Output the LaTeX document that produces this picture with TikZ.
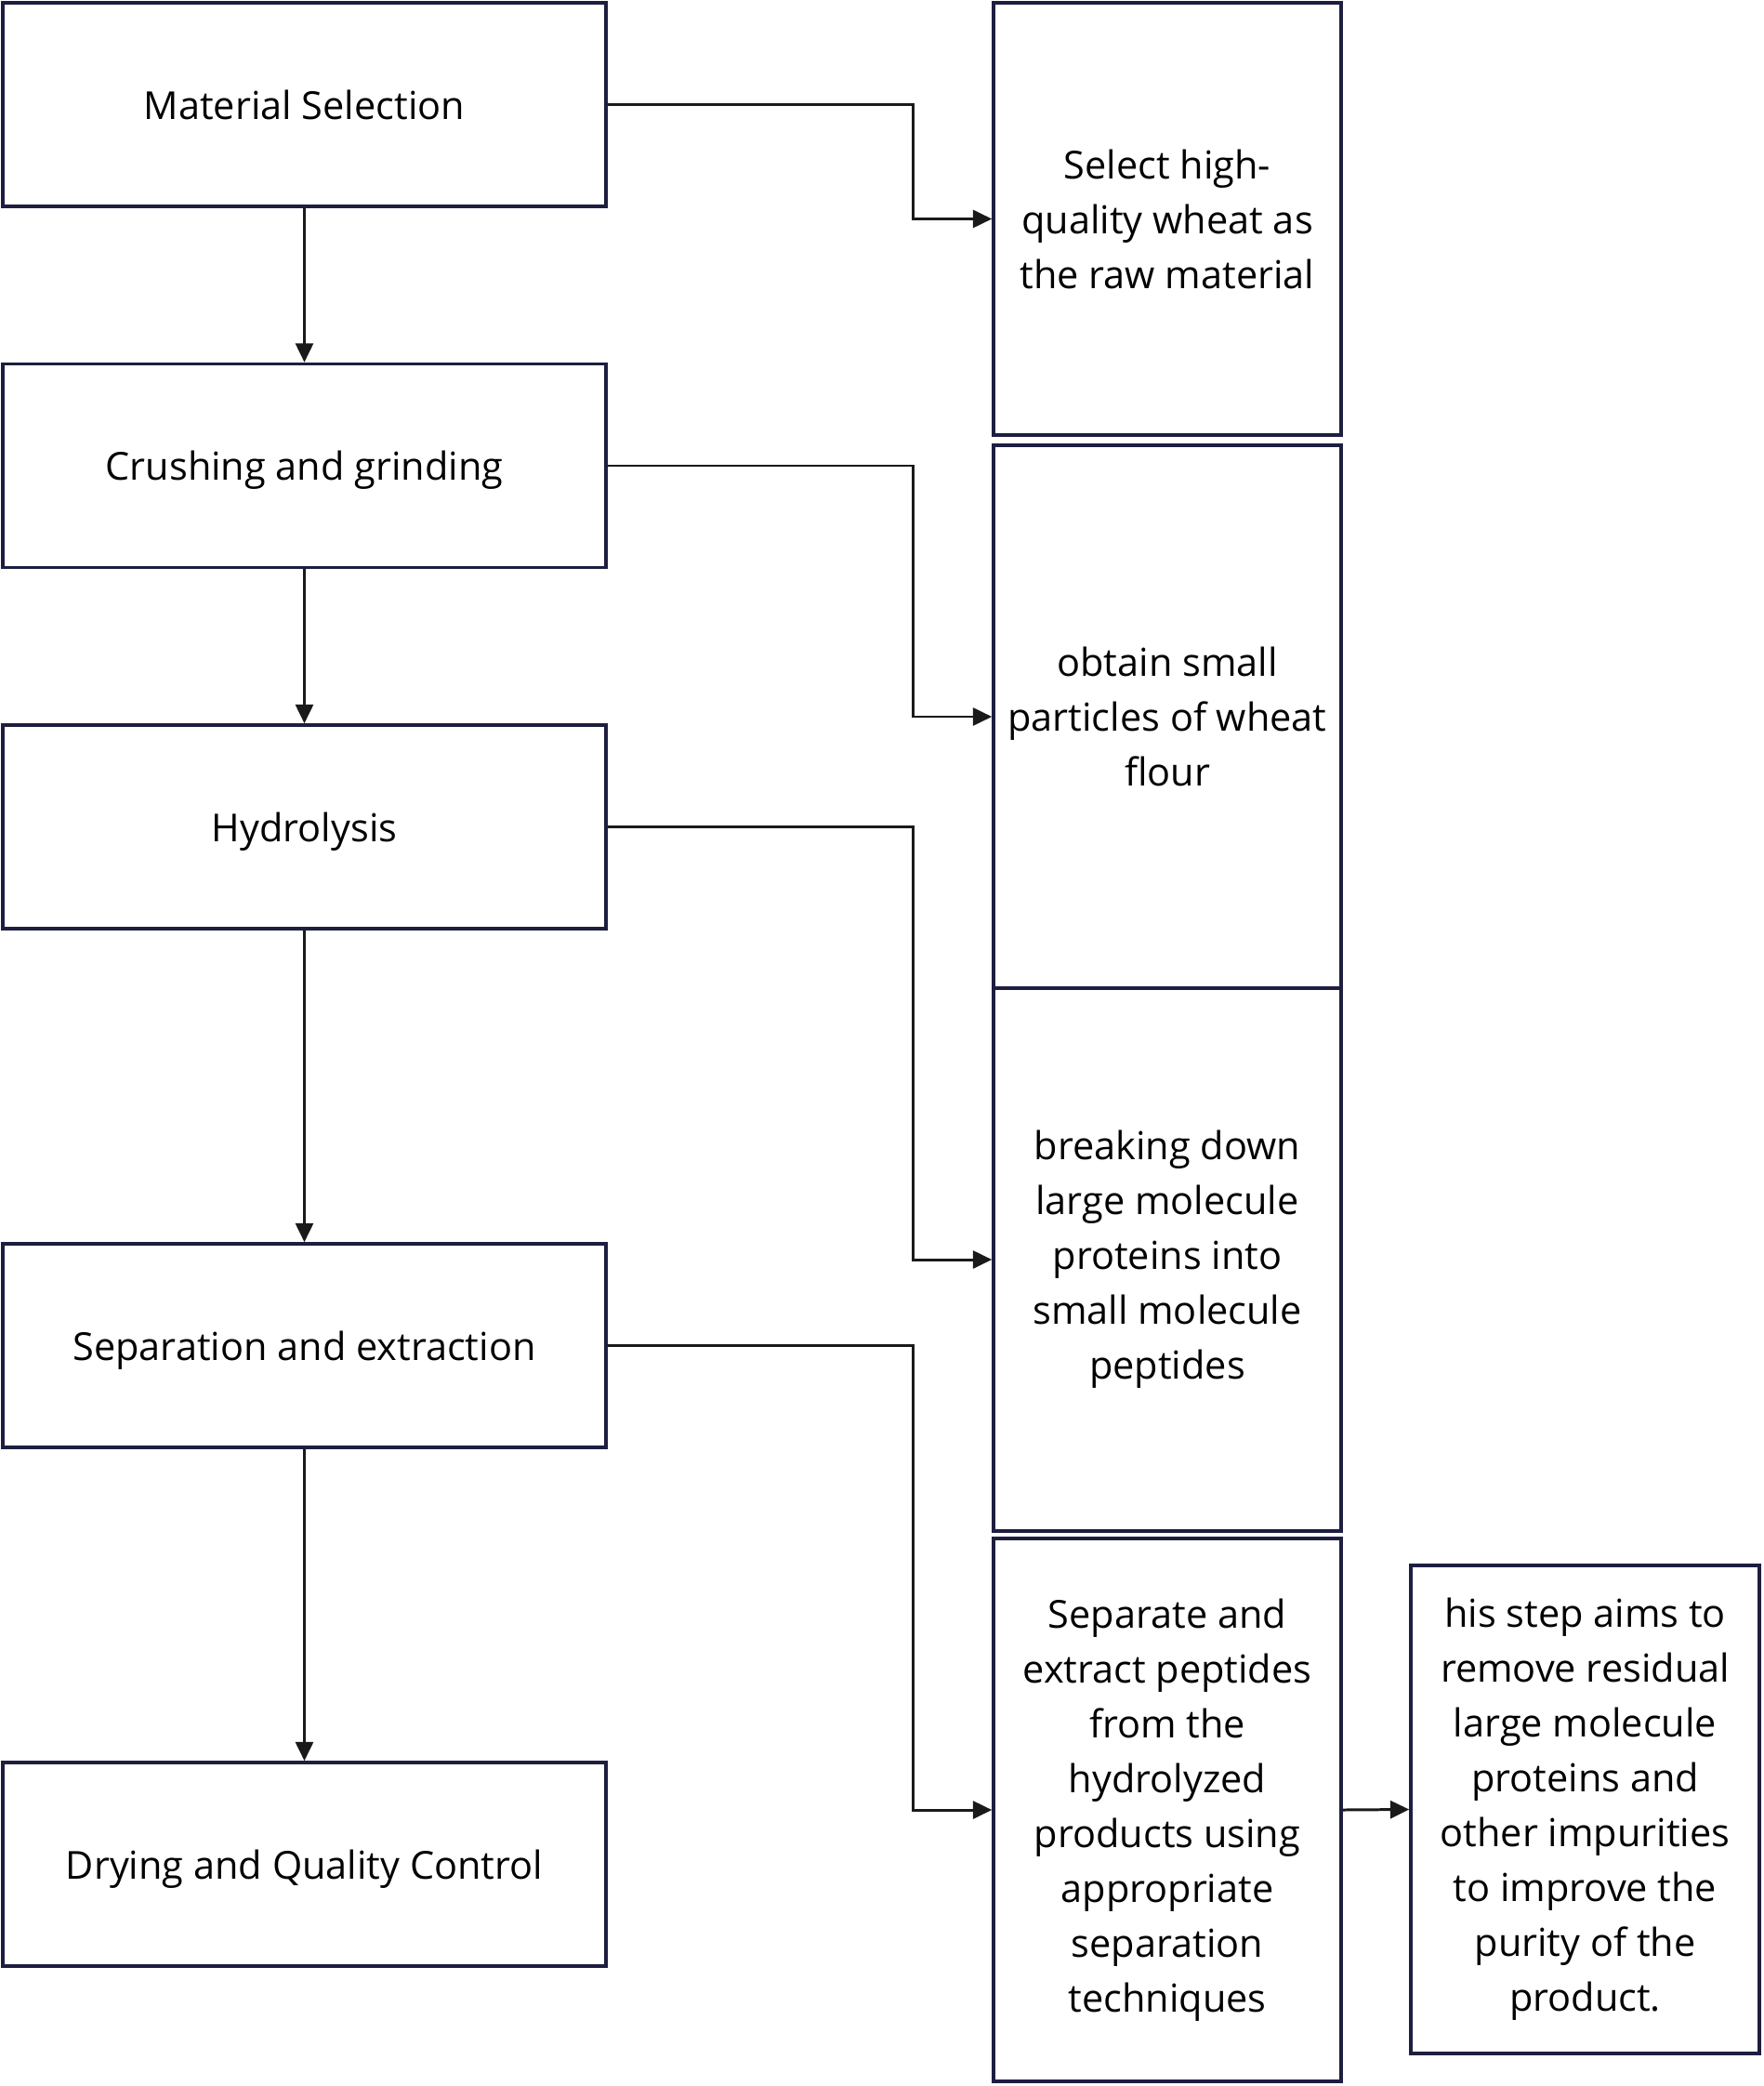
\documentclass[tikz,border=0pt]{standalone}
\usepackage{fontspec}
\setmainfont{Open Sans}
\usepackage{xcolor}
\usepackage{tikz}
\usetikzlibrary{arrows.meta}

\definecolor{boxline}{RGB}{30,30,64}
\definecolor{arrline}{RGB}{26,26,26}

\begin{document}
\begin{tikzpicture}[
    every node/.style={font=\fontsize{11.8}{16.8}\selectfont, text=black},
    stage/.style={draw=boxline, line width=1pt, minimum width=6.49cm, minimum height=2.19cm, align=center, inner sep=0pt, text depth=0pt},
    note/.style={draw=boxline, line width=1pt, minimum width=3.74cm, align=center, inner sep=0pt},
    arr/.style={-{Triangle[length=5.8pt,width=5.4pt]}, line width=0.85pt, arrline},
]
\useasboundingbox (0,0) rectangle (18.97,-22.44);

% Process steps (left column)
\node[stage] (select) at (3.275, -1.125) {Material Selection};
\node[stage] (crush) at (3.275, -5.01) {Crushing and grinding};
\node[stage] (hydro) at (3.275, -8.895) {Hydrolysis};
\node[stage] (separ) at (3.275, -14.475) {Separation and extraction};
\node[stage] (dry) at (3.275, -20.055) {Drying and Quality Control};

% Descriptions (right column)
\node[note, minimum height=4.65cm] (wheat) at (12.56, -2.355) {Select high-\\quality wheat as\\the raw material};
\node[note, minimum height=5.84cm] (flour) at (12.56, -7.71) {obtain small\\particles of wheat\\flour};
\node[note, minimum height=5.84cm] (peptide) at (12.56, -13.55) {breaking down\\large molecule\\proteins into\\small molecule\\peptides};
\node[note, minimum height=5.84cm] (extract) at (12.56, -19.47) {Separate and\\extract peptides\\from the\\hydrolyzed\\products using\\appropriate\\separation\\techniques};
\node[note, minimum height=5.25cm, minimum width=3.75cm] (purity) at (17.055, -19.465) {his step aims to\\remove residual\\large molecule\\proteins and\\other impurities\\to improve the\\purity of the\\product.};

% Main flow
\draw[arr] (select) -- (crush);
\draw[arr] (crush) -- (hydro);
\draw[arr] (hydro) -- (separ);
\draw[arr] (separ) -- (dry);

% Step to description (elbow routes)
\draw[arr] (select.east) -- ++(3.29,0) |- (wheat.west);
\draw[arr] (crush.east) -- ++(3.29,0) |- (flour.west);
\draw[arr] (hydro.east) -- ++(3.29,0) |- (peptide.west);
\draw[arr] (separ.east) -- ++(3.29,0) |- (extract.west);
\draw[arr] (extract.east) -- (purity.west);

\end{tikzpicture}
\end{document}
